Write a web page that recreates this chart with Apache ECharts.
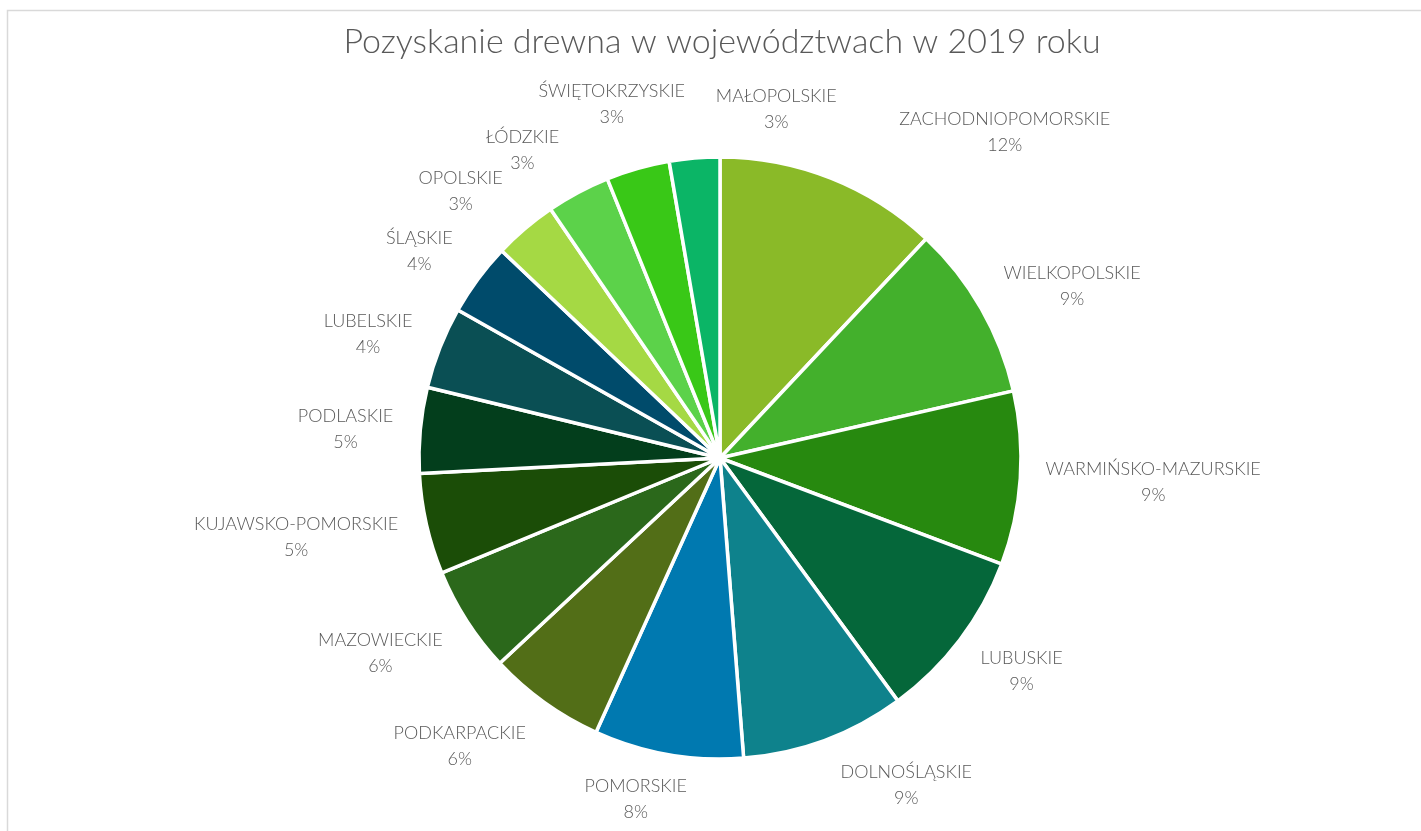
<!DOCTYPE html>
<html>
<head>
<meta charset="utf-8">
<title>Pozyskanie drewna</title>
<script src="https://cdn.jsdelivr.net/npm/echarts@6/dist/echarts.min.js"></script>
<style>
    html, body { margin: 0; padding: 0; background: #fff; }
    #pie { width: 1421px; height: 831px; }
</style>
</head>
<body>
<div id="pie"></div>
<script>
    // województwa, clockwise from 12 o'clock
    var regions = ['ZACHODNIOPOMORSKIE', 'WIELKOPOLSKIE', 'WARMIŃSKO-MAZURSKIE', 'LUBUSKIE',
        'DOLNOŚLĄSKIE', 'POMORSKIE', 'PODKARPACKIE', 'MAZOWIECKIE', 'KUJAWSKO-POMORSKIE',
        'PODLASKIE', 'LUBELSKIE', 'ŚLĄSKIE', 'OPOLSKIE', 'ŁÓDZKIE', 'ŚWIĘTOKRZYSKIE', 'MAŁOPOLSKIE'];
    // udział w pozyskaniu (%)
    var shares = [12.0, 9.4, 9.3, 9.2, 8.8, 8.0, 6.3, 5.7, 5.4, 4.6, 4.4, 3.9, 3.4, 3.4, 3.4, 2.7];
    var colors = ['#8aba28', '#43b02c', '#27890f', '#05673a', '#0e828c', '#0079b0', '#526e17', '#2b681b',
        '#1b4d07', '#033e1c', '#0a4f54', '#004b6b', '#a5d944', '#5cd24a', '#39c817', '#0bb566'];

    var cx = 720, cy = 458, R = 301, gap = 24;
    // excel-like "best fit" nudges for the labels: [angle deg, distance px]
    var labelNudge = [[19.4, 20], [3.7, -6], [-0.8, 0], [-2.1, -5], [-9.4, -5], [4.0, -12], [6.5, -1], [3.0, -1],
        [2.2, 1], [-0.7, 1], [-2.0, -2], [-1.9, -2], [-3.7, 0], [-4.5, 0], [-1.1, 0], [14.0, -6]];

    var total = 0;
    for (var i = 0; i < shares.length; i++) total += shares[i];
    var midAngles = [];
    var acc = 0;
    for (var i = 0; i < shares.length; i++) {
        midAngles.push((acc + shares[i] / 2) / total * 360);
        acc += shares[i];
    }

    var pieData = [];
    for (var i = 0; i < regions.length; i++) {
        pieData.push({ name: regions[i], value: shares[i], itemStyle: { color: colors[i] } });
    }

    var myChart = echarts.init(document.getElementById('pie'));
    var option = {
        backgroundColor: '#fff',
        animation: false,
        title: {
            text: 'Pozyskanie drewna w województwach w 2019 roku',
            left: 717,
            textAlign: 'center',
            top: 20,
            textStyle: {
                fontFamily: 'Lato',
                fontWeight: 300,
                fontSize: 34,
                color: '#595959'
            }
        },
        graphic: [{
            type: 'rect',
            shape: { x: 7.5, y: 10.5, width: 1440, height: 860 },
            style: { fill: 'none', stroke: '#d9d9d9', lineWidth: 1.5 },
            silent: true
        }],
        series: [{
            type: 'pie',
            center: [cx, cy],
            radius: R,
            startAngle: 90,
            clockwise: true,
            avoidLabelOverlap: false,
            data: pieData,
            itemStyle: { borderColor: '#fff', borderWidth: 3.5 },
            label: {
                show: true,
                position: 'outside',
                fontFamily: 'Lato',
                fontWeight: 300,
                fontSize: 18,
                lineHeight: 26,
                color: '#595959',
                formatter: function (p) {
                    return p.name + '\n' + Math.round(p.percent) + '%';
                }
            },
            labelLine: { show: false },
            emphasis: { disabled: true },
            labelLayout: function (params) {
                var i = params.dataIndex;
                var a = (midAngles[i] + labelNudge[i][0]) * Math.PI / 180;
                var ux = Math.sin(a), uy = -Math.cos(a);
                var w = params.labelRect.width, h = params.labelRect.height;
                var d = R + gap + Math.abs(ux) * w / 2 + Math.abs(uy) * h / 2 + labelNudge[i][1];
                return {
                    x: cx + ux * d,
                    y: cy + uy * d + 1,
                    align: 'center',
                    verticalAlign: 'middle',
                    hideOverlap: false
                };
            }
        }]
    };
    myChart.setOption(option);
</script>
</body>
</html>
